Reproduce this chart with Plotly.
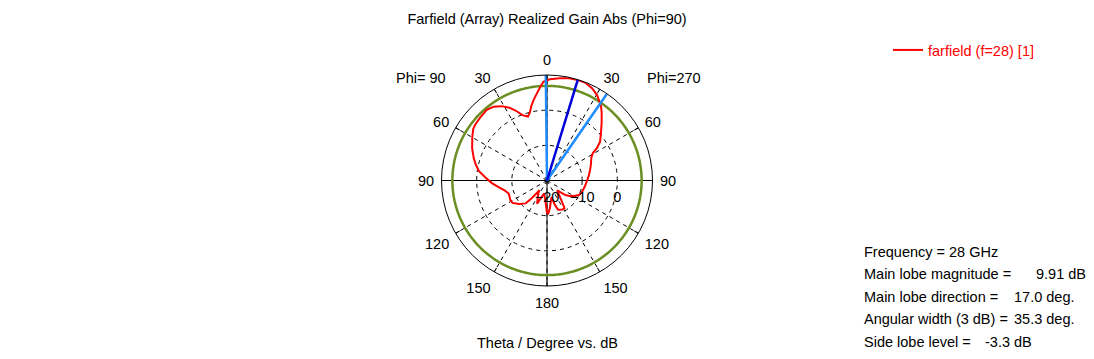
import numpy as np
import plotly.graph_objects as go

# ---------------- data ----------------
theta_deg = [-180, -175, -167, -157, -146, -142, -139, -137, -130, -123, -118, -109,
             -103, -97.5, -92.7, -87, -82, -77, -73, -66.6, -59.7, -55, -51.6, -46.6,
             -40.5, -36, -31.5, -27.3, -24, -20.6, -16.6, -14.2, -12, -9.3, -6.5, -4.6,
             -2.1, 1.6, 7, 12.3, 17, 21.5, 26, 30.2, 33.5, 36, 38.8, 43.2, 48.1, 53.8,
             57, 59.1, 62.9, 69.8, 75.4, 83.4, 90, 98.7, 107.8, 114.4, 119.7, 124.8,
             128.3, 130.8, 134, 143.7, 147.6, 151.4, 159.3, 162.3, 165, 174, 177.8, 180]
gain_db = [-10.7, -14.5, -16.2, -12.8, -15.5, -16.5, -13.0, -11.1, -9.6, -8.3, -8.2, -8.5,
           -7.6, -6.0, -4.3, -2.4, -0.4, 0.85, 1.8, 3.2, 4.6, 5.6, 5.9, 6.1,
           6.4, 5.9, 4.8, 3.3, 1.7, -0.15, -1.0, -0.1, 1.6, 3.3, 5.0, 6.3,
           8.1, 8.8, 9.3, 9.75, 9.91, 9.85, 9.2, 8.2, 7.0, 6.15, 4.8, 2.7, 0.65, -1.3,
           -3.1, -4.8, -5.85, -6.7, -7.3, -8.05, -8.6, -9.1, -9.5, -10.0, -11.1, -12.3,
           -13.3, -14.7, -16.0, -13.2, -10.7, -10.6, -11.1, -12.8, -15.1, -12.1, -10.6, -10.7]

freq_ghz = 28
main_lobe_mag = 9.91
main_lobe_dir = 17.0
angular_width = 35.3
side_lobe_level = -3.3

r_min, r_max = -20, 10
radial_ticks = [-20, -10, 0]
ang_tickvals = [0, 30, 60, 90, 120, 150, 180, 210, 240, 270, 300, 330]
ang_ticktext = ["0", "30", "60", "90", "120", "150", "180", "150", "120", "90", "60", "30"]

legend_name = "farfield (f=28) [1]"
title_text = "Farfield (Array) Realized Gain Abs (Phi=90)"
xlabel_text = "Theta / Degree vs. dB"
left_label = "Phi= 90"
right_label = "Phi=270"

# ---------------- styling ----------------
FONT = "Liberation Sans, Arial, sans-serif"
FS = 14.5
W, H = 1094, 359
cx, cy, R = 547, 180.5, 105.5

RED = "#ff0000"
GREEN = "#6b8e23"
DBLUE = "#0000d8"
LBLUE = "#1e8cff"
CLEAR = "rgba(0,0,0,0)"
DASH = "4px,4px"

fig = go.Figure()

# axis cross lines (solid black)
for a in (0, 90):
    fig.add_trace(go.Scatterpolar(r=[r_max, r_min, r_max], theta=[a, a, a + 180],
                                  mode="lines", line=dict(color="black", width=1),
                                  showlegend=False, hoverinfo="skip"))

# -3 dB circle
circ_t = np.linspace(0, 360, 361)
fig.add_trace(go.Scatterpolar(r=[main_lobe_mag - 3] * len(circ_t), theta=circ_t,
                              mode="lines", line=dict(color=GREEN, width=2.5),
                              showlegend=False, hoverinfo="skip"))

# pattern
fig.add_trace(go.Scatterpolar(r=gain_db, theta=theta_deg, mode="lines",
                              line=dict(color=RED, width=2), name=legend_name,
                              showlegend=True))

# beam width lines
for a in (main_lobe_dir - angular_width / 2, main_lobe_dir + angular_width / 2):
    fig.add_trace(go.Scatterpolar(r=[r_min, main_lobe_mag], theta=[a, a], mode="lines",
                                  line=dict(color=LBLUE, width=2.5),
                                  showlegend=False, hoverinfo="skip"))
# main lobe direction
fig.add_trace(go.Scatterpolar(r=[r_min, main_lobe_mag], theta=[main_lobe_dir, main_lobe_dir],
                              mode="lines", line=dict(color=DBLUE, width=2.5),
                              showlegend=False, hoverinfo="skip"))

# invisible trace to hold the tick-mark overlay subplot
fig.add_trace(go.Scatterpolar(r=[r_min], theta=[0], mode="markers",
                              marker=dict(opacity=0), subplot="polar2",
                              showlegend=False, hoverinfo="skip"))

dom_x = [(cx - R) / W, (cx + R) / W]
dom_y = [1 - (cy + R) / H, 1 - (cy - R) / H]

fig.update_layout(
    width=W, height=H,
    margin=dict(l=0, r=0, t=0, b=0),
    paper_bgcolor="white",
    font=dict(family=FONT, size=FS, color="black"),
    title=dict(text=title_text, x=cx / W, xanchor="center", y=1 - 19 / H,
               yanchor="middle", font=dict(family=FONT, size=FS, color="black")),
    polar=dict(
        domain=dict(x=dom_x, y=dom_y),
        bgcolor="white",
        angularaxis=dict(rotation=90, direction="clockwise",
                         tickmode="array", tickvals=ang_tickvals, ticktext=ang_ticktext,
                         ticks="outside", ticklen=4, tickcolor=CLEAR,
                         showline=True, linecolor="black", linewidth=1,
                         showgrid=True, gridcolor="black", gridwidth=1, griddash=DASH,
                         tickfont=dict(family=FONT, size=FS, color="black")),
        radialaxis=dict(range=[r_min, r_max], tickmode="array", tickvals=radial_ticks,
                        angle=0, side="clockwise", showline=False,
                        ticks="outside", ticklen=4, tickcolor=CLEAR,
                        showgrid=True, gridcolor="black", gridwidth=1, griddash=DASH,
                        tickfont=dict(family=FONT, size=FS, color="black")),
    ),
    polar2=dict(
        domain=dict(x=dom_x, y=dom_y),
        bgcolor=CLEAR,
        angularaxis=dict(rotation=90, direction="clockwise",
                         tickmode="array", tickvals=ang_tickvals,
                         ticks="inside", ticklen=4, tickcolor="black", tickwidth=1,
                         showticklabels=False, showline=False, showgrid=False),
        radialaxis=dict(range=[r_min, r_max], visible=False, showgrid=False),
    ),
    legend=dict(x=888 / W, y=1 - 34 / H, xanchor="left", yanchor="top",
                bgcolor=CLEAR, font=dict(family=FONT, size=FS, color=RED)),
    showlegend=True,
)

def ann(text, px, py, anchor="left"):
    fig.add_annotation(text=text, x=px / W, y=1 - py / H, xref="paper", yref="paper",
                       xanchor=anchor, yanchor="middle", showarrow=False,
                       font=dict(family=FONT, size=FS, color="black"))

ann(left_label, 421, 78, "center")
ann(right_label, 674, 78, "center")
ann(xlabel_text, cx, 342.5, "center")

ann(f"Frequency = {freq_ghz} GHz", 862, 251.5)
ann("Main lobe magnitude =", 862, 274)
ann(f"{main_lobe_mag:.2f} dB", 1088, 274, "right")
ann("Main lobe direction =", 862, 296.5)
ann(f"{main_lobe_dir:.1f} deg.", 1012, 296.5)
ann("Angular width (3 dB) =", 862, 319)
ann(f"{angular_width:.1f} deg.", 1012, 319)
ann("Side lobe level =", 862, 341.5)
ann(f"{side_lobe_level:.1f} dB", 983, 341.5)

fig.write_html("out.html", config={"displayModeBar": False},
               post_script="document.body.style.margin='0';document.body.style.overflow='hidden';")
